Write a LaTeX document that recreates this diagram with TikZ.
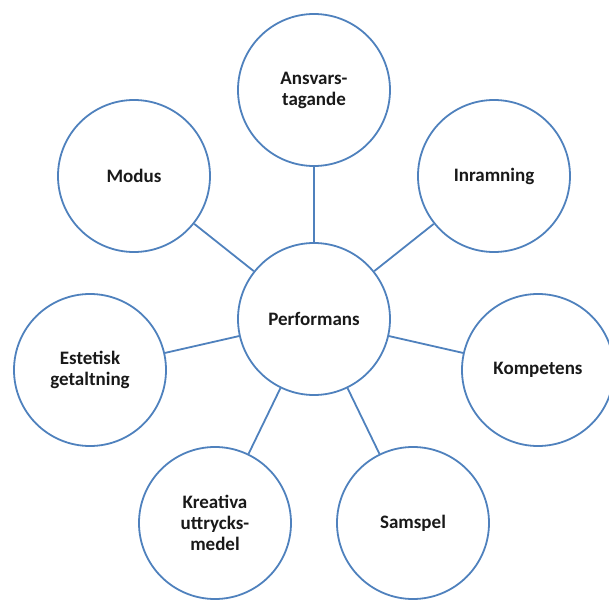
\documentclass[tikz,border=0pt]{standalone}
\usepackage{fontspec}
\setmainfont{Carlito}
\usepackage{tikz}
\usetikzlibrary{positioning}
\usepackage{xcolor}

\definecolor{bubbleblue}{RGB}{79,129,189}

\begin{document}
\begin{tikzpicture}[-,on grid,thick,
	bubble/.style={circle,draw=bubbleblue,line width=1.8pt,minimum size=152pt,inner sep=0pt,
		align=center,text=black!90,font=\fontsize{19}{21}\selectfont\bfseries}]
	
	\useasboundingbox (-314pt,319pt) rectangle (295pt,-280pt);
	
	\node[bubble] (perf) at (0,0) {Performans};
	\node[bubble] (ansvar) [above=229pt of perf] {Ansvars-\\tagande};
	\node[bubble] (modus) [above left=143pt and 180pt of perf] {Modus};
	\node[bubble] (inram) [above right=143pt and 180pt of perf] {Inramning};
	\node[bubble] (estetisk) [below left=51pt and 224pt of perf] {Estetisk\\getaltning};
	\node[bubble] (kompetens) [below right=51pt and 224pt of perf] {Kompetens};
	\node[bubble] (kreativa) [below left=204pt and 99pt of perf] {Kreativa\\uttrycks-\\medel};
	\node[bubble] (samspel) [below right=204pt and 99pt of perf] {Samspel};
	
	\path[draw=bubbleblue,line width=1.8pt]
	      (perf) edge (ansvar)
	             edge (modus)
	             edge (inram)
	             edge (estetisk)
	             edge (kompetens)
	             edge (kreativa)
	             edge (samspel);
	\end{tikzpicture}
\end{document}
